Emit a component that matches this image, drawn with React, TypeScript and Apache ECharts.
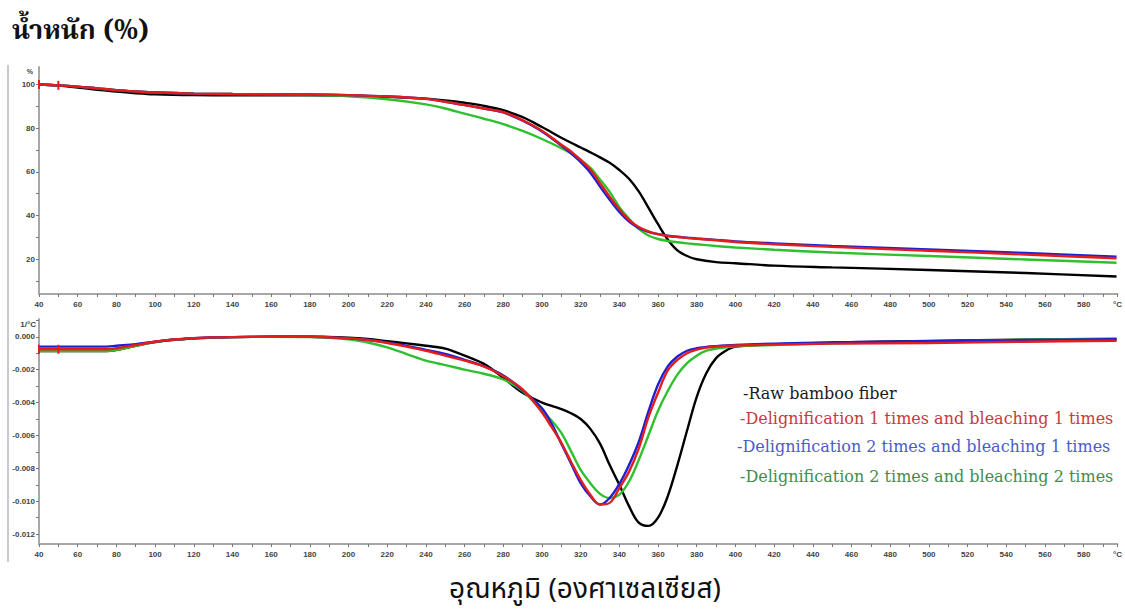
import React, { useEffect, useRef } from "react";
import * as echarts from "echarts";

// ---------- Data ----------
const tgaTemps = [40, 50, 60, 70, 80, 90, 100, 120, 140, 160, 180, 200, 220, 240, 250, 260, 270, 280, 290, 300, 310, 315, 320, 325, 330, 335, 340, 345, 350, 355, 360, 365, 370, 375, 380, 390, 400, 420, 450, 500, 550, 597];
const tgaRaw = [100, 99.5, 98.6, 97.6, 96.7, 96.0, 95.5, 95.1, 95.0, 95.0, 95.0, 94.8, 94.3, 93.5, 92.7, 91.6, 90.2, 88.2, 85.0, 80.5, 75.6, 73.3, 71.1, 68.9, 66.6, 64.1, 60.8, 56.8, 51.0, 43.6, 36.0, 29.0, 24.0, 21.4, 19.9, 18.6, 18.1, 17.0, 16.2, 15.0, 13.6, 12.0];
const tgaD1B1 = [100, 99.6, 99.0, 98.2, 97.4, 96.8, 96.3, 95.8, 95.6, 95.5, 95.4, 95.1, 94.5, 93.4, 92.1, 90.6, 89.0, 87.3, 83.6, 78.8, 72.4, 69.3, 65.4, 61.0, 54.8, 48.6, 42.8, 38.0, 34.7, 32.7, 31.4, 30.6, 30.1, 29.7, 29.3, 28.6, 27.8, 26.8, 25.6, 23.8, 22.1, 20.4];
const tgaD2B1 = [100, 99.6, 99.0, 98.2, 97.4, 96.8, 96.3, 95.8, 95.6, 95.5, 95.4, 95.1, 94.5, 93.4, 92.1, 90.6, 89.0, 87.2, 83.4, 78.5, 72.0, 68.4, 64.4, 59.6, 53.2, 47.2, 41.6, 37.2, 34.3, 32.5, 31.4, 30.7, 30.2, 29.8, 29.4, 28.8, 28.1, 27.2, 26.0, 24.4, 22.8, 21.1];
const tgaD2B2 = [100, 99.6, 99.0, 98.2, 97.4, 96.8, 96.3, 95.8, 95.6, 95.5, 95.2, 94.6, 93.2, 90.9, 89.0, 86.6, 84.3, 81.8, 78.7, 75.0, 70.8, 68.5, 65.5, 61.8, 56.5, 50.8, 43.8, 38.5, 33.8, 30.8, 29.2, 28.3, 27.7, 27.2, 26.8, 26.0, 25.3, 24.3, 23.0, 21.4, 19.8, 18.3];

const dtgTemps = [40, 75, 80, 90, 100, 110, 120, 130, 140, 160, 180, 200, 210, 220, 230, 240, 250, 260, 270, 280, 290, 300, 305, 310, 315, 320, 325, 330, 335, 340, 345, 350, 355, 360, 365, 370, 375, 380, 385, 390, 395, 400, 420, 450, 500, 550, 597];
const dtgRaw = [-0.00087, -0.00087, -0.0008, -0.00055, -0.00032, -0.00018, -0.0001, -0.00005, -0.00002, 0, 0, -0.00006, -0.00014, -0.00027, -0.0004, -0.00055, -0.00072, -0.00115, -0.00165, -0.0025, -0.0034, -0.004, -0.0042, -0.0044, -0.00465, -0.005, -0.0056, -0.0065, -0.0078, -0.009, -0.0103, -0.0113, -0.0115, -0.011, -0.0097, -0.0078, -0.0057, -0.00365, -0.0022, -0.0013, -0.00085, -0.0006, -0.00045, -0.00035, -0.00025, -0.00018, -0.00015];
const dtgD1B1 = [-0.00076, -0.00076, -0.0007, -0.0005, -0.0003, -0.00017, -0.00009, -0.00004, -0.00002, 0, 0, -0.0001, -0.0002, -0.00038, -0.0006, -0.00085, -0.00115, -0.00145, -0.0018, -0.0024, -0.0032, -0.0046, -0.0055, -0.00645, -0.0076, -0.0087, -0.0096, -0.0102, -0.0101, -0.0092, -0.0082, -0.0068, -0.0049, -0.0034, -0.00205, -0.0014, -0.001, -0.00078, -0.00066, -0.0006, -0.00056, -0.00053, -0.00048, -0.00042, -0.00038, -0.0003, -0.00024];
const dtgD2B1 = [-0.0006, -0.0006, -0.00055, -0.00045, -0.0003, -0.00017, -0.00009, -0.00004, -0.00002, 0, 0, -0.00009, -0.00018, -0.00035, -0.00055, -0.0008, -0.00105, -0.0014, -0.0018, -0.00235, -0.00325, -0.00435, -0.0053, -0.0065, -0.0077, -0.0089, -0.0097, -0.0102, -0.0098, -0.00895, -0.0078, -0.0064, -0.00455, -0.0029, -0.0018, -0.0012, -0.00085, -0.0007, -0.00062, -0.00057, -0.00053, -0.0005, -0.00042, -0.00035, -0.00027, -0.0002, -0.00015];
const dtgD2B2 = [-0.00087, -0.00087, -0.0008, -0.00055, -0.00032, -0.00018, -0.0001, -0.00005, -0.00002, 0, -0.00002, -0.00015, -0.00035, -0.00065, -0.00105, -0.00145, -0.00172, -0.002, -0.00225, -0.0026, -0.0033, -0.0045, -0.0051, -0.00585, -0.00695, -0.0081, -0.0089, -0.00955, -0.0098, -0.0096, -0.0088, -0.0075, -0.006, -0.0045, -0.0033, -0.0023, -0.0016, -0.00115, -0.00085, -0.00072, -0.00064, -0.00058, -0.0005, -0.0004, -0.0003, -0.00018, -0.0001];

// start markers on the red curve (temperature, TGA value, DTG value)
const markerTemps = [40, 50];
const markerTga = [100, 99.6];
const markerDtg = [-0.00076, -0.00076];

const seriesNames = [
  "-Raw bamboo fiber",
  "-Delignification 1 times and bleaching 1 times",
  "-Delignification 2 times and bleaching 1 times",
  "-Delignification 2 times and bleaching 2 times",
];
const lineColors = ["#000000", "#e31c1c", "#1f1fd4", "#2fc02f"];
const legendColors = ["#1a1a1a", "#c83a3a", "#4a5bcb", "#3f8d4c"];

const xLabelValues = [40, 60, 80, 100, 120, 140, 160, 180, 200, 220, 240, 260, 280, 300, 320, 340, 360, 380, 400, 420, 440, 460, 480, 500, 520, 540, 560, 580, 597.5];
const xTickValues = [40, 50, 60, 70, 80, 90, 100, 110, 120, 130, 140, 150, 160, 170, 180, 190, 200, 210, 220, 230, 240, 250, 260, 270, 280, 290, 300, 310, 320, 330, 340, 350, 360, 370, 380, 390, 400, 410, 420, 430, 440, 450, 460, 470, 480, 490, 500, 510, 520, 530, 540, 550, 560, 570, 580, 590, 597.5];
const tgaLabelValues = [20, 40, 60, 80, 100];
const tgaTickValues = [10, 20, 30, 40, 50, 60, 70, 80, 90, 100];
const dtgLabelValues = [0, -0.002, -0.004, -0.006, -0.008, -0.01, -0.012];
const dtgTickValues = [0.001, 0, -0.001, -0.002, -0.003, -0.004, -0.005, -0.006, -0.007, -0.008, -0.009, -0.01, -0.011, -0.012];

const titleText = "น้ำหนัก (%)";
const xTitleText = "อุณหภูมิ (องศาเซลเซียส)";

const thaiSerif = "'Noto Serif Thai', 'Norasi', 'Noto Sans Thai', 'Loma', serif";
const thaiSans = "'Noto Sans Thai', 'Loma', 'Garuda', 'Noto Sans', sans-serif";
const axisFont = "'Liberation Sans', Arial, sans-serif";

export default function App() {
  const ref = useRef<HTMLDivElement>(null);

  useEffect(() => {
    if (!ref.current) return;
    const chart = echarts.init(ref.current, undefined, { renderer: "svg" });

    const xAxis = (gridIndex: number) => ({
      type: "value",
      gridIndex,
      min: 40,
      max: 597.5,
      axisLine: { show: true, onZero: false, lineStyle: { color: "#a8a8a8", width: 2 } },
      axisTick: { show: true, customValues: xTickValues, length: 3, lineStyle: { color: "#777", width: 1 } },
      axisLabel: {
        customValues: xLabelValues,
        formatter: (v: number) => (v > 590 ? "°C" : String(v)),
        fontSize: 8,
        fontWeight: "bold",
        color: "#444",
        margin: 6,
        fontFamily: axisFont,
      },
      splitLine: { show: false },
    });

    const yLabel = {
      fontSize: 8,
      fontWeight: "bold",
      color: "#444",
      margin: 4,
      fontFamily: axisFont,
    };

    const tgaSeries = [tgaRaw, tgaD1B1, tgaD2B1, tgaD2B2];
    const dtgSeries = [dtgRaw, dtgD1B1, dtgD2B1, dtgD2B2];
    const order = [0, 3, 2, 1];

    const marker = (vals: number[]) => ({
      symbol: "rect",
      symbolSize: [2, 9],
      silent: true,
      label: { show: false },
      itemStyle: { color: "#e31c1c" },
      data: markerTemps.map((t, i) => ({ coord: [t, vals[i]] })),
    });

    const series: any[] = [];
    order.forEach((k) => {
      series.push({
        name: seriesNames[k] + " TGA",
        type: "line",
        xAxisIndex: 0,
        yAxisIndex: 0,
        showSymbol: false,
        smooth: 0.35,
        data: tgaTemps.map((t, i) => [t, tgaSeries[k][i]]),
        lineStyle: { color: lineColors[k], width: 2.4 },
        itemStyle: { color: lineColors[k] },
        markPoint: k === 1 ? marker(markerTga) : undefined,
      });
    });
    order.forEach((k) => {
      series.push({
        name: seriesNames[k] + " DTG",
        type: "line",
        xAxisIndex: 1,
        yAxisIndex: 1,
        showSymbol: false,
        smooth: 0.35,
        data: dtgTemps.map((t, i) => [t, dtgSeries[k][i]]),
        lineStyle: { color: lineColors[k], width: 2.4 },
        itemStyle: { color: lineColors[k] },
        markPoint: k === 1 ? marker(markerDtg) : undefined,
      });
    });

    const legendY = [393, 418, 446, 476];
    const legendX = [743, 740, 737, 740];

    chart.setOption({
      animation: false,
      backgroundColor: "#ffffff",
      grid: [
        { left: 39, right: 4, top: 67, height: 227 },
        { left: 39, right: 4, top: 319, height: 225 },
      ],
      xAxis: [xAxis(0), xAxis(1)],
      yAxis: [
        {
          type: "value",
          gridIndex: 0,
          min: 4,
          max: 108,
          axisLine: { show: true, lineStyle: { color: "#a8a8a8", width: 2 } },
          axisTick: { show: true, customValues: tgaTickValues, length: 3, lineStyle: { color: "#777" } },
          axisLabel: { ...yLabel, customValues: tgaLabelValues },
          splitLine: { show: false },
        },
        {
          type: "value",
          gridIndex: 1,
          min: -0.0126,
          max: 0.00108,
          axisLine: { show: true, lineStyle: { color: "#a8a8a8", width: 2 } },
          axisTick: { show: true, customValues: dtgTickValues, length: 3, lineStyle: { color: "#777" } },
          axisLabel: {
            ...yLabel,
            customValues: dtgLabelValues,
            formatter: (v: number) => v.toFixed(3),
          },
          splitLine: { show: false },
        },
      ],
      series,
      graphic: [
        {
          type: "line",
          shape: { x1: 8, y1: 65, x2: 8, y2: 562 },
          style: { stroke: "#b8b8b8", lineWidth: 1.5 },
        },
        {
          type: "text",
          x: 12,
          y: 31,
          style: { text: titleText, font: `bold 27px ${thaiSerif}`, fill: "#111", align: "left", verticalAlign: "middle" },
        },
        {
          type: "text",
          x: 33,
          y: 71,
          style: { text: "%", font: `bold 7px ${axisFont}`, fill: "#444", align: "right", verticalAlign: "middle" },
        },
        {
          type: "text",
          x: 36,
          y: 324,
          style: { text: "1/°C", font: `bold 8px ${axisFont}`, fill: "#444", align: "right", verticalAlign: "middle" },
        },
        ...seriesNames.map((name, i) => ({
          type: "text",
          x: legendX[i],
          y: legendY[i],
          style: {
            text: name,
            font: `16px 'DejaVu Serif', serif`,
            fill: legendColors[i],
            align: "left",
            verticalAlign: "middle",
          },
        })),
        {
          type: "text",
          x: 585,
          y: 589,
          style: { text: xTitleText, font: `28px ${thaiSans}`, fill: "#111", align: "center", verticalAlign: "middle" },
        },
      ],
    });

    return () => chart.dispose();
  }, []);

  return (
    <div
      ref={ref}
      style={{ position: "fixed", left: 0, top: 0, width: 1125, height: 609, background: "#fff" }}
    />
  );
}
